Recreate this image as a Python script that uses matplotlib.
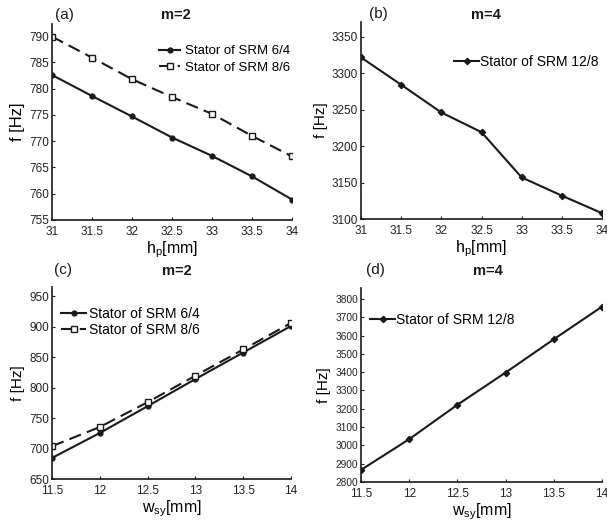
import matplotlib
matplotlib.use("Agg")
import matplotlib.pyplot as plt

plt.rcParams['font.family'] = ['Liberation Sans', 'DejaVu Sans']
plt.rcParams['mathtext.fontset'] = 'custom'
plt.rcParams['mathtext.rm'] = 'Liberation Sans'
plt.rcParams['mathtext.it'] = 'Liberation Sans'

# Data
hp = [31, 31.5, 32, 32.5, 33, 33.5, 34]
a_srm64 = [782.6, 778.6, 774.7, 770.7, 767.2, 763.3, 758.9]
a_srm86 = [789.9, 785.9, 781.8, 778.4, 775.2, 771.0, 767.1]
b_srm128 = [3321.5, 3284, 3246, 3219, 3157, 3132, 3108]

wsy = [11.5, 12, 12.5, 13, 13.5, 14]
c_srm64 = [684.5, 725.5, 769.5, 814, 857.5, 901]
c_srm86 = [703.8, 735.3, 776, 819.5, 862.5, 906]
d_srm128 = [2866, 3034, 3222, 3398, 3580, 3758]

a_yticks = [755, 760, 765, 770, 775, 780, 785, 790]
b_yticks = [3100, 3150, 3200, 3250, 3300, 3350]
c_yticks = [650, 700, 750, 800, 850, 900, 950]
d_yticks = list(range(2800, 3801, 100))
hp_xticks = [31, 31.5, 32, 32.5, 33, 33.5, 34]
wsy_xticks = [11.5, 12, 12.5, 13, 13.5, 14]

W, H = 607, 520
fig = plt.figure(figsize=(W / 100, H / 100), dpi=100)
INK = '#1a1a1a'

def mkax(l, r, t, b):
    return fig.add_axes([l / W, (H - b) / H, (r - l) / W, (b - t) / H])

def ftext(x, y, s, **kw):
    fig.text(x / W, 1 - y / H, s, va='center', color=INK, **kw)

def style(ax, xlabel, ylsize=11):
    for s in ['top', 'right']:
        ax.spines[s].set_visible(False)
    for s in ['left', 'bottom']:
        ax.spines[s].set_linewidth(1.2)
        ax.spines[s].set_color(INK)
    ax.tick_params(direction='in', length=2, labelsize=8.5, colors='#222222')
    ax.tick_params(axis='x', pad=4)
    ax.tick_params(axis='y', pad=2)
    ax.set_ylabel('f [Hz]', fontsize=ylsize, labelpad=3)
    ax.set_xlabel(xlabel, fontsize=11.5, labelpad=1)

def leg(ax, left, top, hl, htp, ls, fs=9.5):
    ax.legend(loc='upper left', bbox_to_anchor=(left / W, 1 - top / H),
              bbox_transform=fig.transFigure, frameon=False, fontsize=fs,
              handlelength=hl, handletextpad=htp, labelspacing=ls,
              borderpad=0, borderaxespad=0)

fmt = lambda v: ('%g' % v)
lw = 1.5

# (a)
ax = mkax(52, 292, 24, 220)
ax.plot(hp, a_srm64, '-', color=INK, lw=lw, marker='o', ms=3.5, mfc=INK,
        label='Stator of SRM 6/4')
ax.plot(hp, a_srm86, color=INK, lw=lw, ls=(0, (6, 3)), marker='s', ms=4.3, mfc='white',
        mew=1.0, label='Stator of SRM 8/6')
ax.set_xlim(31, 34)
ax.set_ylim(755, 792.3)
ax.set_yticks(a_yticks)
ax.set_xticks(hp_xticks)
ax.set_xticklabels([fmt(v) for v in hp_xticks])
style(ax, r'h$_{\rm p}$[mm]', ylsize=12)
leg(ax, 159, 45, 1.6, 0.4, 0.35)
ftext(55, 15, '(a)', fontsize=11, ha='left')
ftext(176, 15, 'm=2', fontsize=10.5, fontweight='bold', ha='center')

# (b)
ax = mkax(361, 602, 22, 219)
ax.plot(hp, b_srm128, '-', color=INK, lw=lw, marker='D', ms=3.2, mfc=INK,
        label='Stator of SRM 12/8')
ax.set_xlim(31, 34)
ax.set_ylim(3100, 3370)
ax.set_yticks(b_yticks)
ax.set_xticks(hp_xticks)
ax.set_xticklabels([fmt(v) for v in hp_xticks])
style(ax, r'h$_{\rm p}$[mm]')
leg(ax, 454, 55, 1.8, 0.1, 0.3, fs=10)
ftext(369, 14, '(b)', fontsize=11, ha='left')
ftext(486, 15, 'm=4', fontsize=10.5, fontweight='bold', ha='center')

# (c)
ax = mkax(52, 291, 287, 479)
ax.plot(wsy, c_srm64, '-', color=INK, lw=lw, marker='o', ms=3.5, mfc=INK,
        label='Stator of SRM 6/4')
ax.plot(wsy, c_srm86, color=INK, lw=lw, ls=(0, (6, 3)), marker='s', ms=4.3, mfc='white',
        mew=1.0, label='Stator of SRM 8/6')
ax.set_xlim(11.5, 14)
ax.set_ylim(650, 965)
ax.set_yticks(c_yticks)
ax.set_xticks(wsy_xticks)
ax.set_xticklabels([fmt(v) for v in wsy_xticks])
style(ax, r'w$_{\rm sy}$[mm]')
leg(ax, 61, 307, 1.8, 0.2, 0.15, fs=10)
ftext(54, 270, '(c)', fontsize=11, ha='left')
ftext(177, 271, 'm=2', fontsize=10.5, fontweight='bold', ha='center')

# (d)
ax = mkax(361, 602, 288, 482)
ax.plot(wsy, d_srm128, '-', color=INK, lw=lw, marker='D', ms=3.2, mfc=INK,
        label='Stator of SRM 12/8')
ax.set_xlim(11.5, 14)
ax.set_ylim(2800, 3860)
ax.set_yticks(d_yticks)
ax.set_xticks(wsy_xticks)
ax.set_xticklabels([fmt(v) for v in wsy_xticks])
style(ax, r'w$_{\rm sy}$[mm]')
ax.tick_params(axis='y', labelsize=7.3)
leg(ax, 370, 313, 1.8, 0.1, 0.3, fs=10)
ftext(366, 270, '(d)', fontsize=11, ha='left')
ftext(488, 271, 'm=4', fontsize=10.5, fontweight='bold', ha='center')

fig.savefig('out.png', dpi=100)
